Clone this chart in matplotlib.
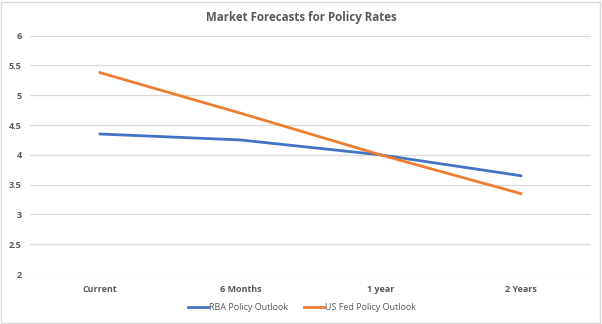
import matplotlib.pyplot as plt
from matplotlib.patches import Rectangle

# ── Data ──────────────────────────────────────────────────────────────────────
periods = ["Current", "6 Months", "1 year", "2 Years"]
rba_rates = [4.35, 4.25, 4.00, 3.65]
fed_rates = [5.38, 4.70, 4.00, 3.35]
y_ticks = [2, 2.5, 3, 3.5, 4, 4.5, 5, 5.5, 6]
y_tick_labels = ["2", "2.5", "3", "3.5", "4", "4.5", "5", "5.5", "6"]

# ── Style ─────────────────────────────────────────────────────────────────────
BLUE = "#4472C4"
ORANGE = "#ED7D31"
TEXT = "#595959"
GRID = "#D9D9D9"
plt.rcParams["font.family"] = ["Open Sans", "DejaVu Sans"]

fig = plt.figure(figsize=(6.02, 3.24), dpi=100)
fig.patch.set_facecolor("white")
ax = fig.add_axes([0.0498, 0.1543, 0.9319, 0.7355])

x = list(range(len(periods)))
ax.plot(x, rba_rates, color=BLUE, linewidth=2, label="RBA Policy Outlook", zorder=3)
ax.plot(x, fed_rates, color=ORANGE, linewidth=2, label="US Fed Policy Outlook", zorder=3)

ax.set_xlim(-0.5, len(periods) - 0.5)
ax.set_ylim(2, 6)
ax.set_xticks(x)
ax.set_xticklabels(periods, fontsize=6.5, fontweight="bold", color=TEXT)
ax.set_yticks(y_ticks)
ax.set_yticklabels(y_tick_labels, fontsize=6.5, fontweight="bold", color=TEXT)
ax.tick_params(length=0, pad=8)
ax.tick_params(axis="y", pad=6)
ax.grid(axis="y", color=GRID, linewidth=0.9, zorder=0)
for s in ax.spines.values():
    s.set_visible(False)

fig.suptitle("Market Forecasts for Policy Rates", x=0.5, y=0.965,
             fontsize=8.3, fontweight="bold", color=TEXT)

ax.legend(loc="center", bbox_to_anchor=(0.485, -0.14), ncol=2, frameon=False,
          fontsize=6.5, labelcolor=TEXT, handlelength=2.2, handletextpad=0.1,
          columnspacing=1.8)

# light border around the chart
fig.add_artist(Rectangle((0.002, 0.004), 0.994, 0.99, transform=fig.transFigure,
                         fill=False, edgecolor=GRID, linewidth=1))

plt.savefig("out.png", dpi=100)
